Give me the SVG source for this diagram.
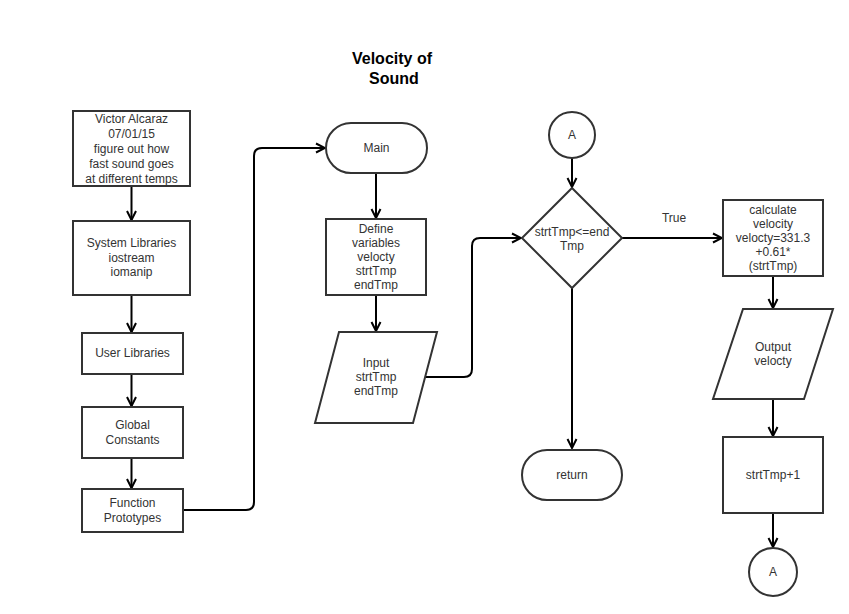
<svg xmlns="http://www.w3.org/2000/svg" width="849" height="614" viewBox="0 0 849 614">
<defs>
<marker id="arr" markerWidth="12" markerHeight="12" refX="10" refY="6" orient="auto" markerUnits="userSpaceOnUse">
<path d="M1,1.5 L10,6 L1,10.5" fill="none" stroke="#000" stroke-width="2"/>
</marker>
<style>
.n{fill:#fff;stroke:#333;stroke-width:2}
.t{font-family:"Liberation Sans",Arial,sans-serif;font-size:12px;fill:#333;text-anchor:middle}
.c{fill:none;stroke:#000;stroke-width:2;marker-end:url(#arr)}
.title{font-family:"Liberation Sans",Arial,sans-serif;font-size:16px;font-weight:bold;fill:#000;text-anchor:middle}
</style>
</defs>
<rect width="849" height="614" fill="#fff"/>
<g id="title"><text class="title" x="392" y="64">Velocity of</text><text class="title" x="394" y="84">Sound</text></g>
<g id="connectors">
<path class="c" d="M131.5,186 V220"/>
<path class="c" d="M131.5,295 V332"/>
<path class="c" d="M131.5,374 V406"/>
<path class="c" d="M131.5,458 V488"/>
<path class="c" d="M183,510 H246 Q254,510 254,502 V156 Q254,148 262,148 H325"/>
<path class="c" d="M376,173 V218"/>
<path class="c" d="M376,295 V331"/>
<path class="c" d="M422,377 H464 Q472,377 472,369 V246 Q472,238 480,238 H521"/>
<path class="c" d="M572,158 V187"/>
<path class="c" d="M622,238 H722"/>
<path class="c" d="M572,287 V448"/>
<path class="c" d="M773,276 V308"/>
<path class="c" d="M773,399 V436"/>
<path class="c" d="M773,513 V547"/>
<text class="t" x="674" y="222">True</text>
</g>
<g id="n1"><rect class="n" x="73" y="111" width="117" height="75"/>
<text class="t" x="131.5" y="123">Victor Alcaraz</text><text class="t" x="131.5" y="138">07/01/15</text><text class="t" x="131.5" y="153">figure out how</text><text class="t" x="131.5" y="168">fast sound goes</text><text class="t" x="131.5" y="183">at different temps</text></g>
<g id="n2"><rect class="n" x="73" y="221" width="117" height="74"/>
<text class="t" x="131.5" y="247">System Libraries</text><text class="t" x="131.5" y="262">iostream</text><text class="t" x="131.5" y="276">iomanip</text></g>
<g id="n3"><rect class="n" x="82" y="333" width="101" height="41"/>
<text class="t" x="132.5" y="357">User Libraries</text></g>
<g id="n4"><rect class="n" x="82" y="407" width="101" height="51"/>
<text class="t" x="132.5" y="429">Global</text><text class="t" x="132.5" y="444">Constants</text></g>
<g id="n5"><rect class="n" x="82" y="489" width="101" height="43"/>
<text class="t" x="132.5" y="507">Function</text><text class="t" x="132.5" y="522">Prototypes</text></g>
<g id="main"><rect class="n" x="326" y="123" width="101" height="50" rx="25" ry="25"/>
<text class="t" x="376.5" y="152">Main</text></g>
<g id="define"><rect class="n" x="326" y="219" width="100" height="76"/>
<text class="t" x="376" y="233">Define</text><text class="t" x="376" y="247">variables</text><text class="t" x="376" y="261">velocty</text><text class="t" x="376" y="275">strtTmp</text><text class="t" x="376" y="289">endTmp</text></g>
<g id="input"><polygon class="n" points="339,332 437,332 413,423 315,423"/>
<text class="t" x="376" y="367">Input</text><text class="t" x="376" y="381">strtTmp</text><text class="t" x="376" y="395">endTmp</text></g>
<g id="a1"><circle class="n" cx="572" cy="135" r="23"/><text class="t" x="572" y="139">A</text></g>
<g id="decision"><polygon class="n" points="572,188 622,238 572,288 522,238"/>
<text class="t" x="572" y="236">strtTmp&lt;=end</text><text class="t" x="572" y="250">Tmp</text></g>
<g id="return"><rect class="n" x="522" y="450" width="100" height="50" rx="25" ry="25"/>
<text class="t" x="572" y="479">return</text></g>
<g id="calc"><rect class="n" x="723" y="200" width="100" height="76"/>
<text class="t" x="773" y="214">calculate</text><text class="t" x="773" y="228">velocity</text><text class="t" x="773" y="242">velocty=331.3</text><text class="t" x="773" y="256">+0.61*</text><text class="t" x="773" y="270">(strtTmp)</text></g>
<g id="output"><polygon class="n" points="743,309 833,309 804,399 713,399"/>
<text class="t" x="773" y="351">Output</text><text class="t" x="773" y="365">velocty</text></g>
<g id="inc"><rect class="n" x="723" y="437" width="100" height="76"/>
<text class="t" x="773" y="479">strtTmp+1</text></g>
<g id="a2"><circle class="n" cx="773" cy="572" r="24"/><text class="t" x="773" y="576">A</text></g>
</svg>
